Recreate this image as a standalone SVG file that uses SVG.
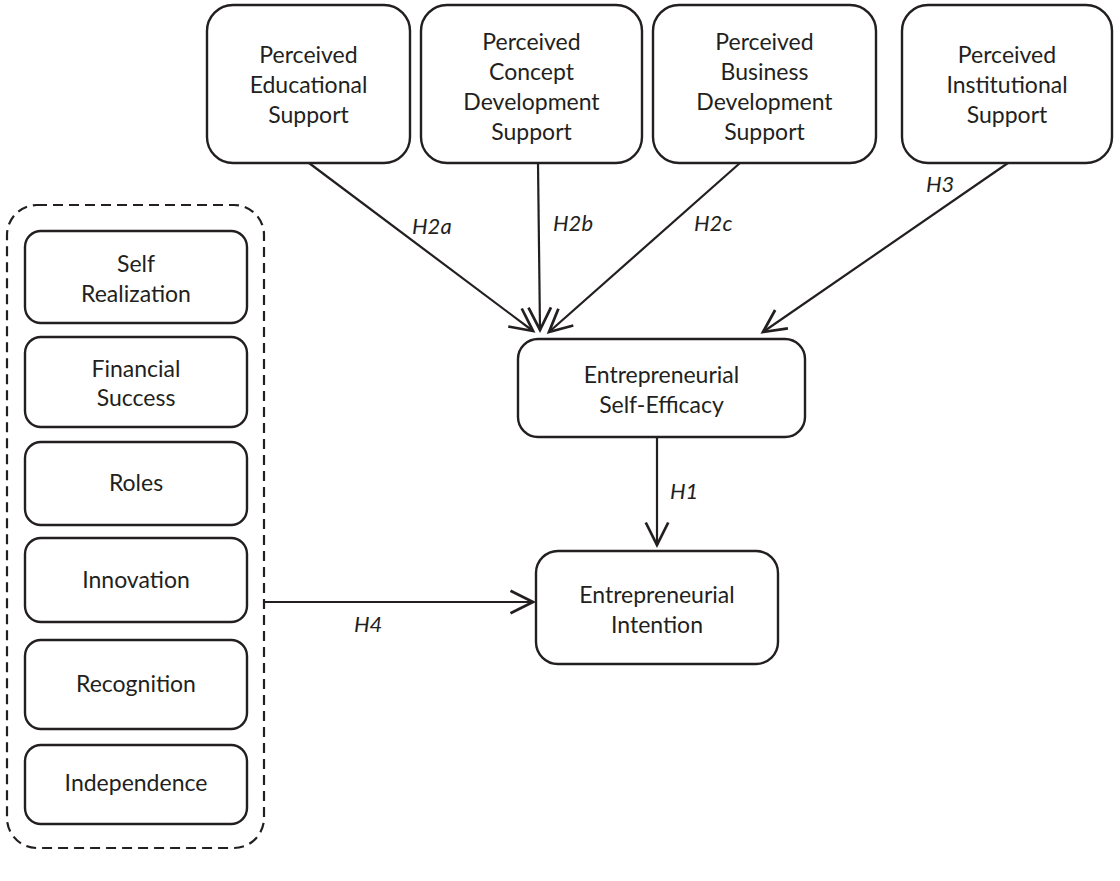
<svg xmlns="http://www.w3.org/2000/svg" width="1120" height="881" viewBox="0 0 1120 881">
<defs>
<style>
.box{fill:#fff;stroke:#231f20;stroke-width:2.4}
.dash{fill:none;stroke:#231f20;stroke-width:2.2;stroke-dasharray:10 6}
.t{font-family:Lato,"Liberation Sans",sans-serif;font-size:23px;fill:#231f20;text-anchor:middle}
.lbl{font-family:Lato,"Liberation Sans",sans-serif;font-size:22px;font-style:italic;fill:#231f20}
.c{stroke:#231f20;stroke-width:2.2;fill:none;marker-end:url(#ah)}
</style>
<marker id="ah" markerUnits="userSpaceOnUse" markerWidth="30" markerHeight="30" viewBox="-20 -12 24 24" refX="0" refY="0" orient="auto">
<path d="M-18,-9 L0,0 L-18,9" fill="none" stroke="#231f20" stroke-width="2.2"/>
</marker>
</defs>
<rect width="1120" height="881" fill="#fff"/>

<g id="n-educational">
<rect class="box" x="207" y="5" width="203" height="158" rx="26"/>
<text class="t" x="308.5" y="63">Perceived</text>
<text class="t" x="308.5" y="93">Educational</text>
<text class="t" x="308.5" y="123">Support</text>
</g>
<g id="n-concept">
<rect class="box" x="421" y="5" width="221" height="158" rx="26"/>
<text class="t" x="531.5" y="50">Perceived</text>
<text class="t" x="531.5" y="80">Concept</text>
<text class="t" x="531.5" y="110">Development</text>
<text class="t" x="531.5" y="140">Support</text>
</g>
<g id="n-business">
<rect class="box" x="653" y="5" width="223" height="158" rx="26"/>
<text class="t" x="764.5" y="50">Perceived</text>
<text class="t" x="764.5" y="80">Business</text>
<text class="t" x="764.5" y="110">Development</text>
<text class="t" x="764.5" y="140">Support</text>
</g>
<g id="n-institutional">
<rect class="box" x="902" y="5" width="210" height="158" rx="26"/>
<text class="t" x="1007" y="63">Perceived</text>
<text class="t" x="1007" y="93">Institutional</text>
<text class="t" x="1007" y="123">Support</text>
</g>
<g id="n-selfefficacy">
<rect class="box" x="518" y="339" width="287" height="98" rx="20"/>
<text class="t" x="661.5" y="383">Entrepreneurial</text>
<text class="t" x="661.5" y="413">Self-Efficacy</text>
</g>
<g id="n-intention">
<rect class="box" x="536" y="551" width="242" height="113" rx="22"/>
<text class="t" x="657" y="603">Entrepreneurial</text>
<text class="t" x="657" y="633">Intention</text>
</g>
<g id="n-values">
<rect class="dash" x="7" y="205" width="257" height="643" rx="30"/>
<g id="n-selfrealization">
<rect class="box" x="25" y="231" width="222" height="92" rx="16"/>
<text class="t" x="136" y="272">Self</text>
<text class="t" x="136" y="302">Realization</text>
</g>
<g id="n-financial">
<rect class="box" x="25" y="337" width="222" height="90" rx="16"/>
<text class="t" x="136" y="377">Financial</text>
<text class="t" x="136" y="406">Success</text>
</g>
<g id="n-roles">
<rect class="box" x="25" y="442" width="222" height="83" rx="16"/>
<text class="t" x="136" y="491">Roles</text>
</g>
<g id="n-innovation">
<rect class="box" x="25" y="538" width="222" height="84" rx="16"/>
<text class="t" x="136" y="588">Innovation</text>
</g>
<g id="n-recognition">
<rect class="box" x="25" y="640" width="222" height="89" rx="16"/>
<text class="t" x="136" y="692">Recognition</text>
</g>
<g id="n-independence">
<rect class="box" x="25" y="745" width="222" height="79" rx="16"/>
<text class="t" x="136" y="791">Independence</text>
</g>
</g>

<g id="connectors">
<line class="c" x1="309" y1="163" x2="533" y2="331"/>
<line class="c" x1="538" y1="163" x2="540" y2="330"/>
<line class="c" x1="740" y1="163" x2="549" y2="332"/>
<line class="c" x1="1008" y1="163" x2="763" y2="332"/>
<line class="c" x1="657" y1="437" x2="657" y2="545"/>
<line class="c" x1="264" y1="602" x2="533" y2="602"/>
<text class="lbl" x="412" y="234">H2a</text>
<text class="lbl" x="553" y="231">H2b</text>
<text class="lbl" x="694" y="231">H2c</text>
<text class="lbl" x="926" y="192">H3</text>
<text class="lbl" x="670" y="499">H1</text>
<text class="lbl" x="354" y="632">H4</text>
</g>
</svg>
